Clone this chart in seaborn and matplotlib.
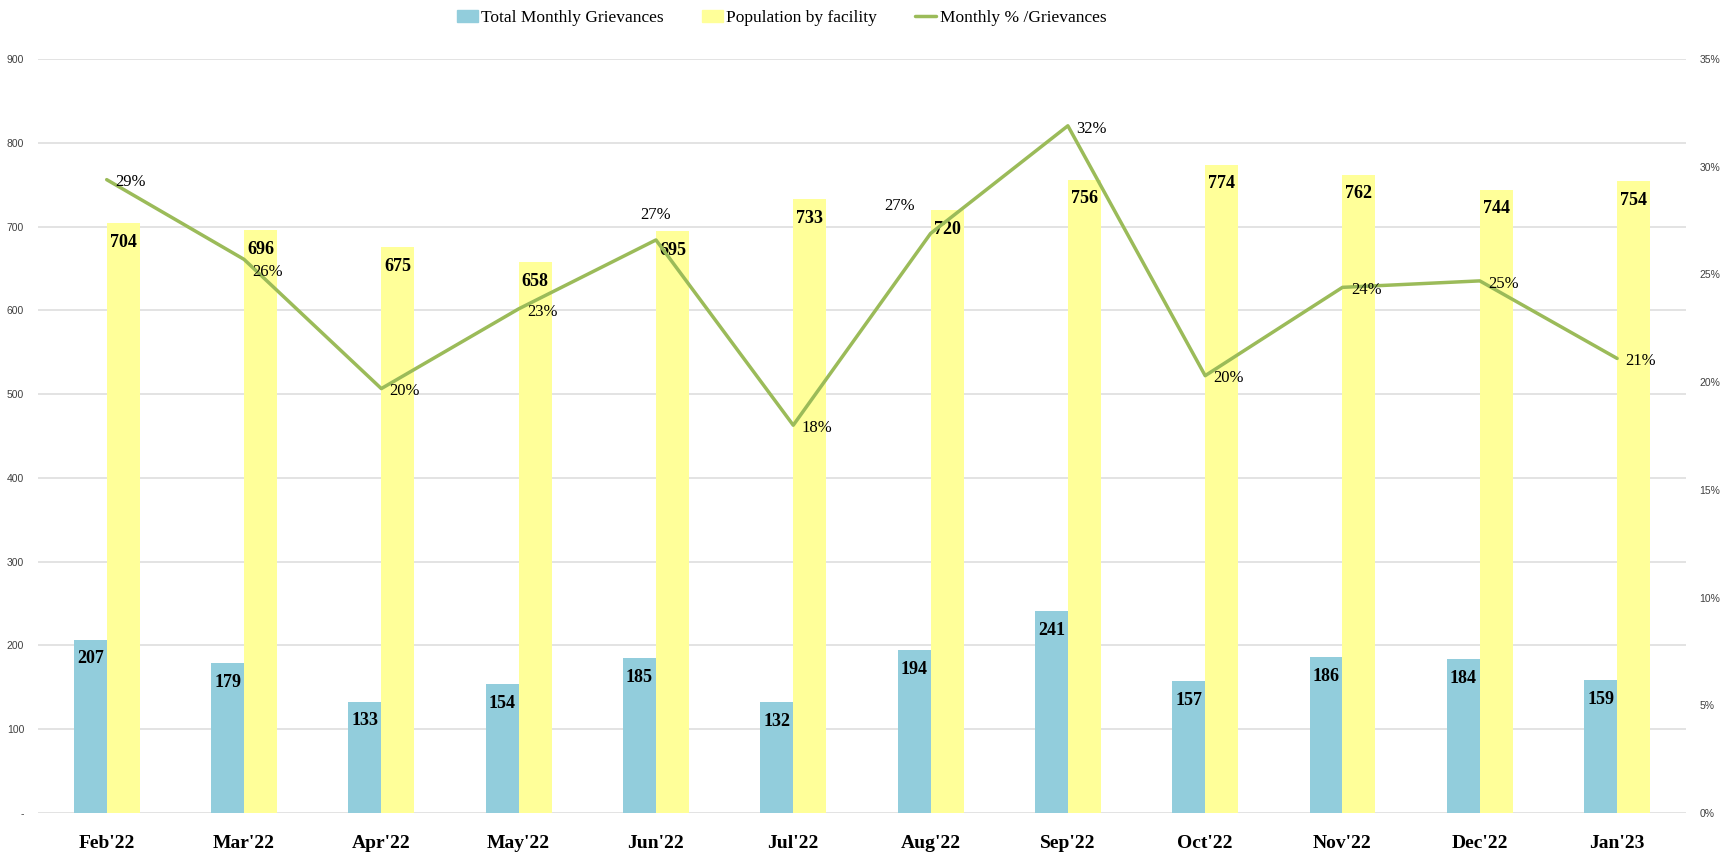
import pandas as pd
import matplotlib.pyplot as plt
import matplotlib.patches as mpatches
import matplotlib.lines as mlines
import seaborn as sb

#%% Dados
months = ["Feb'22", "Mar'22", "Apr'22", "May'22", "Jun'22", "Jul'22",
          "Aug'22", "Sep'22", "Oct'22", "Nov'22", "Dec'22", "Jan'23"]
grievances = [207, 179, 133, 154, 185, 132, 194, 241, 157, 186, 184, 159]
population = [704, 696, 675, 658, 695, 733, 720, 756, 774, 762, 744, 754]
pct = [0.294, 0.257, 0.197, 0.234, 0.266, 0.180, 0.269, 0.319, 0.203,
       0.244, 0.247, 0.211]
pct_labels = ["29%", "26%", "20%", "23%", "27%", "18%", "27%", "32%",
              "20%", "24%", "25%", "21%"]

c_blue = "#92CDDC"
c_yellow = "#FFFF99"
c_green = "#9BBB59"

df = pd.DataFrame({"month": months * 2,
                   "value": grievances + population,
                   "serie": ["Total Monthly Grievances"] * 12
                   + ["Population by facility"] * 12})
dl = pd.DataFrame({"pos": range(len(months)), "pct": pct})

#%% Figura
sb.set_style("white")
plt.rcParams['font.family'] = ['Liberation Serif', 'DejaVu Serif']
plt.rcParams['text.color'] = 'black'

fig = plt.figure(figsize=(17.29, 8.59), dpi=100)
ax = fig.add_axes([0.022, 0.0536, 0.953, 0.8777])

sb.barplot(data=df, x="month", y="value", hue="serie", order=months,
           palette=[c_blue, c_yellow], width=0.48, gap=0, saturation=1,
           edgecolor="none", linewidth=0, legend=False, ax=ax)

ax.set_ylim(0, 900)
ax.set_xlim(-0.5, len(months) - 0.5)
ax.set_yticks(range(0, 901, 100))
ax.set_yticklabels(["-"] + [str(v) for v in range(100, 901, 100)],
                   family="Liberation Sans", fontsize=7.5, color="#404040")
ax.yaxis.grid(True, color="#DEDEDE", lw=1.2)
ax.set_axisbelow(True)
ax.tick_params(axis="y", length=0, pad=10)
ax.tick_params(axis="x", length=0, pad=16, colors="black")
for t in ax.get_xticklabels():
    t.set_fontweight("bold")
    t.set_fontsize(14)
ax.set_xlabel("")
ax.set_ylabel("")
for s in ax.spines.values():
    s.set_visible(False)

# rotulos das barras
for cont in ax.containers:
    for b in cont:
        h = b.get_height()
        ax.text(b.get_x() + b.get_width() / 2, h - 23, f"{int(h)}",
                ha="center", va="center", fontsize=13, fontweight="bold")

#%% Eixo secundario (percentual)
ax2 = ax.twinx()
sb.lineplot(data=dl, x="pos", y="pct", color=c_green, lw=2.5, ax=ax2)
ax2.set_ylim(0, 0.35)
ax2.set_yticks([i * 0.05 for i in range(8)])
ax2.set_yticklabels([f"{i * 5}%" for i in range(8)],
                    family="Liberation Sans", fontsize=7.5, color="#404040")
ax2.tick_params(axis="y", length=0, pad=10)
ax2.set_xlabel("")
ax2.set_ylabel("")
for s in ax2.spines.values():
    s.set_visible(False)

for i, (p, lab) in enumerate(zip(pct, pct_labels)):
    if i == 4:
        ax2.annotate(lab, (i, p), xytext=(0, 12), textcoords="offset points",
                     ha="center", va="bottom", fontsize=12)
    elif i == 6:
        ax2.annotate(lab, (i, p), xytext=(-22, 14), textcoords="offset points",
                     ha="center", va="bottom", fontsize=12)
    elif i == 1:
        ax2.annotate(lab, (i, p), xytext=(6, -9), textcoords="offset points",
                     ha="left", va="center", fontsize=12)
    else:
        ax2.annotate(lab, (i, p), xytext=(6, -2), textcoords="offset points",
                     ha="left", va="center", fontsize=12)

#%% Legenda
handles = [mpatches.Patch(color=c_blue, label="Total Monthly Grievances"),
           mpatches.Patch(color=c_yellow, label="Population by facility"),
           mlines.Line2D([], [], color=c_green, lw=2.5,
                         label="Monthly % /Grievances")]
fig.legend(handles=handles, loc="center", bbox_to_anchor=(0.452, 0.979),
           ncol=3, frameon=False, fontsize=12.5, handlelength=1.2,
           handletextpad=0.2, columnspacing=2.2)

plt.savefig("out.png", dpi=100)
